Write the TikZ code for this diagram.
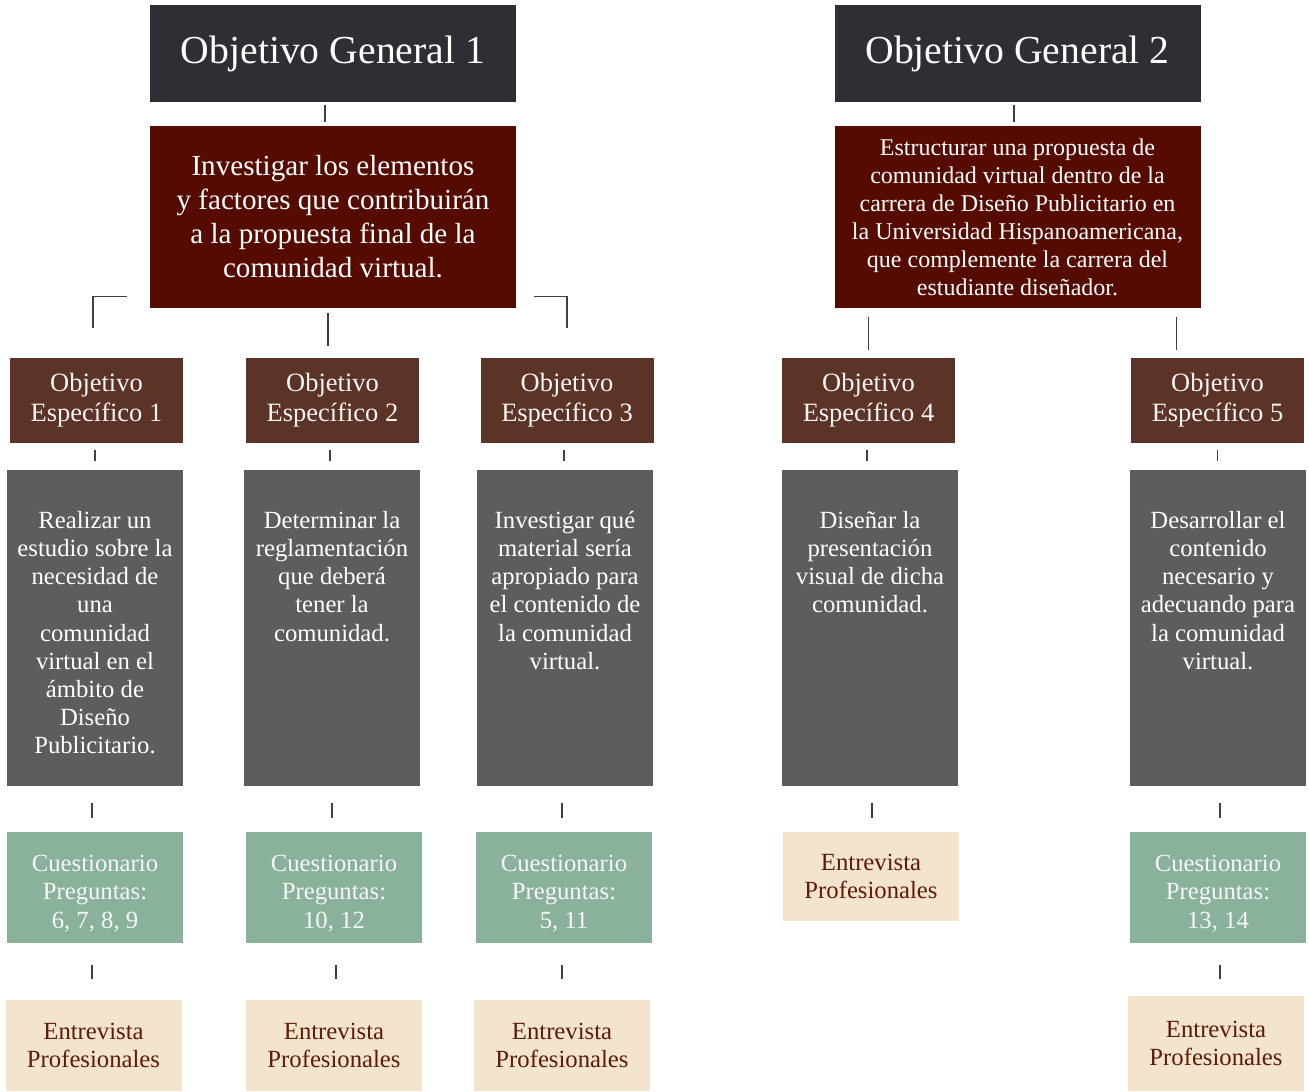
\documentclass[tikz,border=0pt]{standalone}
\usepackage{fontspec}
\setmainfont{Liberation Serif}
\usetikzlibrary{calc}

\definecolor{general}{HTML}{2E2E35}
\definecolor{rojo}{HTML}{560B00}
\definecolor{cafe}{HTML}{5B3327}
\definecolor{gris}{HTML}{5C5E5D}
\definecolor{verde}{HTML}{89B19C}
\definecolor{crema}{HTML}{F3E4CC}
\definecolor{tinta}{HTML}{5E1A10}

\def\u{0.5669pt}

\tikzset{
  caja/.style={draw=none, inner sep=0pt, align=center},
  general/.style={caja, fill=general, text=white, minimum width=366*\u, minimum height=97*\u,
    font=\fontsize{22.5}{27}\selectfont},
  rojo/.style={caja, fill=rojo, text=white, minimum width=366*\u, minimum height=182*\u},
  especifico/.style={caja, fill=cafe, text=white!95!cafe, minimum width=173*\u, minimum height=85*\u,
    font=\fontsize{15}{17}\selectfont},
  gris/.style={caja, fill=gris, minimum width=176*\u, minimum height=316*\u},
  texto/.style={caja, text=white, font=\fontsize{14}{16}\selectfont},
  verde/.style={caja, fill=verde, minimum width=176*\u, minimum height=111*\u},
  textoverde/.style={caja, text=white!92!verde, font=\fontsize{14}{16.2}\selectfont},
  crema/.style={caja, fill=crema, text=tinta, minimum width=176*\u, minimum height=91*\u,
    font=\fontsize{14}{16}\selectfont},
  linea/.style={draw=black!75, line width=0.7pt}
}

\begin{document}
\begin{tikzpicture}[x=0.5669pt, y=-0.5669pt]
\useasboundingbox (0,0) rectangle (1309,1091);

% Objetivos generales
\node[general] (og1) at (333,53.5) {Objetivo General 1};
\node[general] (og2) at (1017.5,53.5) {Objetivo General 2};

\node[rojo, font=\fontsize{16.5}{19.3}\selectfont] (r1) at (333,217)
{Investigar los elementos\\
y factores que contribuirán\\
a la propuesta final de la\\
comunidad virtual.};

\node[rojo, font=\fontsize{13.6}{15.9}\selectfont] (r2) at (1017.5,217)
{Estructurar una propuesta de\\
comunidad virtual dentro de la\\
carrera de Diseño Publicitario en\\
la Universidad Hispanoamericana,\\
que complemente la carrera del\\
estudiante diseñador.};

\draw[linea, shorten <=3*\u, shorten >=4*\u] ([xshift=-8*\u]og1.south) -- ([xshift=-8*\u]og1.south |- r1.north);
\draw[linea, shorten <=3*\u, shorten >=4*\u] ([xshift=-3.5*\u]og2.south) -- ([xshift=-3.5*\u]og2.south |- r2.north);

% Objetivos especificos
\node[especifico] (e1) at (96.5,400.5) {Objetivo\\Específico 1};
\node[especifico] (e2) at (332.5,400.5) {Objetivo\\Específico 2};
\node[especifico] (e3) at (567,400.5) {Objetivo\\Específico 3};
\node[especifico] (e4) at (868.5,400.5) {Objetivo\\Específico 4};
\node[especifico] (e5) at (1217.5,400.5) {Objetivo\\Específico 5};

\draw[linea] ([xshift=-23*\u, yshift=12*\u]r1.south west) -| ([xshift=-3.5*\u, yshift=30*\u]e1.north);
\draw[linea] ([xshift=18*\u, yshift=12*\u]r1.south east) -| ([yshift=30*\u]e3.north);
\draw[linea, shorten <=5*\u, shorten >=12*\u] ([xshift=-5*\u]r1.south) -- ([xshift=-4.5*\u]e2.north);

\draw[linea, shorten <=9*\u, shorten >=8*\u] (r2.south -| e4.north) -- (e4.north);
\draw[linea, shorten <=9*\u, shorten >=8*\u] ([xshift=-24*\u]r2.south east) -- ([xshift=-24*\u]r2.south east |- e5.north);

% Descripciones
\node[gris] (g1) at (95,628) {};
\node[gris] (g2) at (332,628) {};
\node[gris] (g3) at (565,628) {};
\node[gris] (g4) at (870,628) {};
\node[gris] (g5) at (1218,628) {};

\node[texto, anchor=north] (t1) at ([yshift=-41*\u]g1.north)
{Realizar un\\estudio sobre la\\necesidad de\\una\\comunidad\\virtual en el\\ámbito de\\Diseño\\Publicitario.};
\node[texto, anchor=north] (t2) at ([yshift=-41*\u]g2.north)
{Determinar la\\reglamentación\\que deberá\\tener la\\comunidad.};
\node[texto, anchor=north] (t3) at ([yshift=-41*\u]g3.north)
{Investigar qué\\material sería\\apropiado para\\el contenido de\\la comunidad\\virtual.};
\node[texto, anchor=north] (t4) at ([yshift=-41*\u]g4.north)
{Diseñar la\\presentación\\visual de dicha\\comunidad.};
\node[texto, anchor=north] (t5) at ([yshift=-41*\u]g5.north)
{Desarrollar el\\contenido\\necesario y\\adecuando para\\la comunidad\\virtual.};

\draw[linea, shorten <=7*\u, shorten >=9*\u] ([xshift=-1.5*\u]e1.south) -- ([xshift=-1.5*\u]e1.south |- g1.north);
\draw[linea, shorten <=7*\u, shorten >=9*\u] ([xshift=-2.5*\u]e2.south) -- ([xshift=-2.5*\u]e2.south |- g2.north);
\draw[linea, shorten <=7*\u, shorten >=9*\u] ([xshift=-3*\u]e3.south) -- ([xshift=-3*\u]e3.south |- g3.north);
\draw[linea, shorten <=7*\u, shorten >=9*\u] ([xshift=-1.5*\u]e4.south) -- ([xshift=-1.5*\u]e4.south |- g4.north);
\draw[linea, shorten <=7*\u, shorten >=9*\u] (e5.south) -- (e5.south |- g5.north);

% Instrumentos
\node[verde] (q1) at (95,887.5) {};
\node[verde] (q2) at (334,887.5) {};
\node[verde] (q3) at (564,887.5) {};
\node[verde] (q5) at (1218,887.5) {};
\node[textoverde] (qt1) at ([yshift=-3.4pt]q1) {Cuestionario\\Preguntas:\\6, 7, 8, 9};
\node[textoverde] (qt2) at ([yshift=-3.4pt]q2) {Cuestionario\\Preguntas:\\10, 12};
\node[textoverde] (qt3) at ([yshift=-3.4pt]q3) {Cuestionario\\Preguntas:\\5, 11};
\node[textoverde] (qt5) at ([yshift=-3.4pt]q5) {Cuestionario\\Preguntas:\\13, 14};
\node[crema, minimum height=89*\u] (p4) at (871,876.5) {Entrevista\\Profesionales};

\draw[linea, shorten <=17*\u, shorten >=14*\u] ([xshift=-3*\u]g1.south) -- ([xshift=-3*\u]q1.north);
\draw[linea, shorten <=17*\u, shorten >=14*\u] (g2.south) -- (g2.south |- q2.north);
\draw[linea, shorten <=17*\u, shorten >=14*\u] ([xshift=-3*\u]g3.south) -- ([xshift=-3*\u]g3.south |- q3.north);
\draw[linea, shorten <=17*\u, shorten >=14*\u] ([xshift=2*\u]g4.south) -- ([xshift=2*\u]g4.south |- p4.north);
\draw[linea, shorten <=17*\u, shorten >=14*\u] ([xshift=2*\u]g5.south) -- ([xshift=2*\u]g5.south |- q5.north);

\node[crema] (p1) at (93.5,1045.5) {Entrevista\\Profesionales};
\node[crema] (p2) at (334,1045.5) {Entrevista\\Profesionales};
\node[crema] (p3) at (562,1045.5) {Entrevista\\Profesionales};
\node[crema, minimum height=95*\u] (p5) at (1216,1043.5) {Entrevista\\Profesionales};

\draw[linea, shorten <=22*\u, shorten >=21*\u] ([xshift=-3*\u]q1.south) -- ([xshift=-3*\u]q1.south |- p1.north);
\draw[linea, shorten <=22*\u, shorten >=21*\u] ([xshift=2*\u]q2.south) -- ([xshift=2*\u]q2.south |- p2.north);
\draw[linea, shorten <=22*\u, shorten >=21*\u] ([xshift=-2*\u]q3.south) -- ([xshift=-2*\u]q3.south |- p3.north);
\draw[linea, shorten <=22*\u, shorten >=17*\u] ([xshift=2*\u]q5.south) -- ([xshift=2*\u]q5.south |- p5.north);

\end{tikzpicture}
\end{document}
